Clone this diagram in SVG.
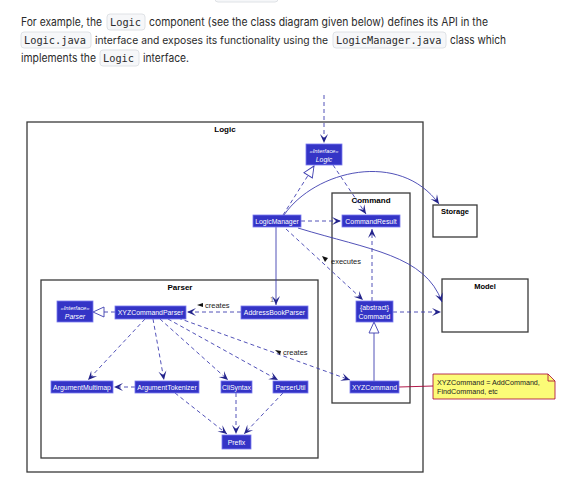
<svg xmlns="http://www.w3.org/2000/svg" width="574" height="484" viewBox="0 0 574 484">
<style>
.p{font-family:Inter,"Noto Sans","Liberation Sans",sans-serif;font-size:11.2px;fill:#2b2b2b}
.code{font-family:"DejaVu Sans Mono","Liberation Mono",monospace;font-size:10.3px;fill:#2b2b2b}
.cb{fill:#f6f7f9;stroke:#dfe2e6;stroke-width:1}
.frame{fill:none;stroke:#3a3a3a;stroke-width:1.3}
.pkg{fill:#ffffff;stroke:#3a3a3a;stroke-width:1.3}
.title{font-family:"Liberation Sans",Arial,sans-serif;font-size:8px;font-weight:bold;fill:#000;text-anchor:middle}
.box{fill:#3434c6;stroke:#7a7af0;stroke-width:0.8}
.bt{font-family:"Liberation Sans",Arial,sans-serif;font-size:6.9px;fill:#ffffff;text-anchor:middle}
.it{font-style:italic}
.dash{fill:none;stroke:#3e3eb0;stroke-width:0.9;stroke-dasharray:4,3}
.sol{fill:none;stroke:#3e3eb0;stroke-width:0.9}
.lbl{font-family:"Liberation Sans",Arial,sans-serif;font-size:7.5px;fill:#222}
.note{fill:#fbfb77;stroke:#a80036;stroke-width:0.8}
</style>
<defs>
<marker id="arr" viewBox="-10 -5 11 10" refX="0" refY="0" markerWidth="11" markerHeight="10" markerUnits="userSpaceOnUse" orient="auto">
<path d="M0,0 L-9,-4 L-5,0 L-9,4 Z" fill="#24248c"/>
</marker>
<marker id="tri" viewBox="-12 -6 13 12" refX="0" refY="0" markerWidth="13" markerHeight="12" markerUnits="userSpaceOnUse" orient="auto">
<path d="M0,0 L-11,-5 L-11,5 Z" fill="#ffffff" stroke="#3e3eb0" stroke-width="0.9"/>
</marker>
</defs>
<rect width="574" height="484" fill="#ffffff"/>
<rect x="215" y="-10" width="63" height="12" rx="3" fill="#f6f7f9" stroke="#dfe2e6"/>

<g id="paragraph">
<text class="p" x="21" y="26" textLength="81" lengthAdjust="spacingAndGlyphs">For example, the</text>
<rect class="cb" x="107" y="14" width="38" height="16" rx="3"/>
<text class="code" x="110" y="26">Logic</text>
<text class="p" x="149" y="26" textLength="339" lengthAdjust="spacingAndGlyphs">component (see the class diagram given below) defines its API in the</text>
<rect class="cb" x="21" y="32" width="70" height="16" rx="3"/>
<text class="code" x="24" y="44">Logic.java</text>
<text class="p" x="95" y="44" textLength="233" lengthAdjust="spacingAndGlyphs" style="font-size:10.6px">interface and exposes its functionality using the</text>
<rect class="cb" x="333" y="32" width="113" height="16" rx="3"/>
<text class="code" x="336" y="44">LogicManager.java</text>
<text class="p" x="450" y="44" textLength="56" lengthAdjust="spacingAndGlyphs">class which</text>
<text class="p" x="21" y="62" textLength="75" lengthAdjust="spacingAndGlyphs">implements the</text>
<rect class="cb" x="100" y="50" width="39" height="16" rx="3"/>
<text class="code" x="103" y="62">Logic</text>
<text class="p" x="143" y="62" textLength="46" lengthAdjust="spacingAndGlyphs">interface.</text>
</g>

<g id="frame-logic">
<rect class="frame" x="27" y="122" width="396" height="350"/>
<text class="title" x="225" y="132">Logic</text>
</g>
<g id="frame-command">
<rect class="frame" x="332" y="193" width="78" height="210"/>
<text class="title" x="371" y="203">Command</text>
</g>
<g id="frame-parser">
<rect class="frame" x="41" y="280" width="277" height="178"/>
<text class="title" x="180" y="290">Parser</text>
</g>
<g id="storage">
<rect class="pkg" x="433" y="205" width="44" height="32"/>
<text class="title" x="455" y="214" style="font-size:7.5px">Storage</text>
</g>
<g id="model">
<rect class="pkg" x="442" y="279" width="86" height="53"/>
<text class="title" x="485" y="289" style="font-size:7.5px">Model</text>
</g>

<g id="connectors">
<path class="dash" d="M324,95 L324,143" marker-end="url(#arr)"/>
<path class="dash" d="M283,215 L314,166" marker-end="url(#tri)"/>
<path class="dash" d="M333,165 L366,214" marker-end="url(#arr)"/>
<path class="sol" d="M284,215 C315,170 400,150 439,204" marker-end="url(#arr)"/>
<path class="dash" d="M301,221 L341,221" marker-end="url(#arr)"/>
<path class="sol" d="M298,228 C370,250 425,255 442,302" marker-end="url(#arr)"/>
<path class="sol" d="M276,227 L276,305" marker-end="url(#arr)"/>
<text class="lbl" x="270" y="302" style="fill:#777">1</text>
<path class="dash" d="M286,229 L363,300" marker-end="url(#arr)"/>
<polygon points="322,256 328,258 325,262" fill="#111"/>
<text class="lbl" x="331" y="264">executes</text>
<path class="dash" d="M372,301 L372,229" marker-end="url(#arr)"/>
<path class="dash" d="M393,312 L441,312" marker-end="url(#arr)"/>
<path class="sol" d="M374,381 L374,322" marker-end="url(#tri)"/>
<path class="dash" d="M241,312 L187,312" marker-end="url(#arr)"/>
<polygon points="197,305 203,303 203,307" fill="#111"/>
<text class="lbl" x="205" y="308">creates</text>
<path class="dash" d="M115,312 L93,312" marker-end="url(#tri)"/>
<path class="dash" d="M145,319 L88,380" marker-end="url(#arr)"/>
<path class="dash" d="M153,319 L164,380" marker-end="url(#arr)"/>
<path class="dash" d="M160,319 L228,380" marker-end="url(#arr)"/>
<path class="dash" d="M168,319 L278,380" marker-end="url(#arr)"/>
<path class="dash" d="M178,318 L350,380" marker-end="url(#arr)"/>
<polygon points="275,350 281,351 280,355" fill="#111"/>
<text class="lbl" x="283" y="355">creates</text>
<path class="dash" d="M135,387 L114,387" marker-end="url(#arr)"/>
<path class="dash" d="M175,393 L227,434" marker-end="url(#arr)"/>
<path class="dash" d="M236,393 L236,434" marker-end="url(#arr)"/>
<path class="dash" d="M283,393 L244,434" marker-end="url(#arr)"/>
<path d="M399,387 L433,386" fill="none" stroke="#a80036" stroke-width="0.9"/>
</g>

<g id="logic-interface">
<rect class="box" x="306" y="144" width="36" height="21"/>
<text class="bt it" x="324" y="153" style="font-size:5.8px">«Interface»</text>
<text class="bt it" x="324" y="162">Logic</text>
</g>
<g id="logic-manager">
<rect class="box" x="253" y="215" width="48" height="12"/>
<text class="bt" x="277" y="223.5">LogicManager</text>
</g>
<g id="command-result">
<rect class="box" x="342" y="215" width="58" height="12"/>
<text class="bt" x="371" y="223.5">CommandResult</text>
</g>
<g id="abstract-command">
<rect class="box" x="356" y="301" width="37" height="21"/>
<text class="bt" x="374.5" y="310">{abstract}</text>
<text class="bt" x="374.5" y="319">Command</text>
</g>
<g id="xyz-command">
<rect class="box" x="350" y="381" width="49" height="12"/>
<text class="bt" x="374.5" y="389.5">XYZCommand</text>
</g>
<g id="parser-interface">
<rect class="box" x="57" y="301" width="36" height="21"/>
<text class="bt it" x="75" y="310" style="font-size:5.8px">«Interface»</text>
<text class="bt it" x="75" y="319">Parser</text>
</g>
<g id="xyz-command-parser">
<rect class="box" x="115" y="306" width="71" height="13"/>
<text class="bt" x="150.5" y="315">XYZCommandParser</text>
</g>
<g id="address-book-parser">
<rect class="box" x="241" y="306" width="67" height="13"/>
<text class="bt" x="274.5" y="315">AddressBookParser</text>
</g>
<g id="argument-multimap">
<rect class="box" x="51" y="381" width="62" height="12"/>
<text class="bt" x="82" y="389.5">ArgumentMultimap</text>
</g>
<g id="argument-tokenizer">
<rect class="box" x="135" y="381" width="64" height="12"/>
<text class="bt" x="167" y="389.5">ArgumentTokenizer</text>
</g>
<g id="cli-syntax">
<rect class="box" x="221" y="381" width="31" height="12"/>
<text class="bt" x="236.5" y="389.5">CliSyntax</text>
</g>
<g id="parser-util">
<rect class="box" x="273" y="381" width="35" height="12"/>
<text class="bt" x="290.5" y="389.5">ParserUtil</text>
</g>
<g id="prefix">
<rect class="box" x="222" y="435" width="29" height="14"/>
<text class="bt" x="236.5" y="444.5">Prefix</text>
</g>
<g id="note">
<path class="note" d="M433,374 L548,374 L555,381 L555,399 L433,399 Z"/>
<path d="M548,374 L548,381 L555,381" fill="none" stroke="#a80036" stroke-width="0.8"/>
<text class="lbl" x="437" y="385" style="font-size:7.2px">XYZCommand = AddCommand,</text>
<text class="lbl" x="437" y="394" style="font-size:7.2px">FindCommand, etc</text>
</g>
</svg>
